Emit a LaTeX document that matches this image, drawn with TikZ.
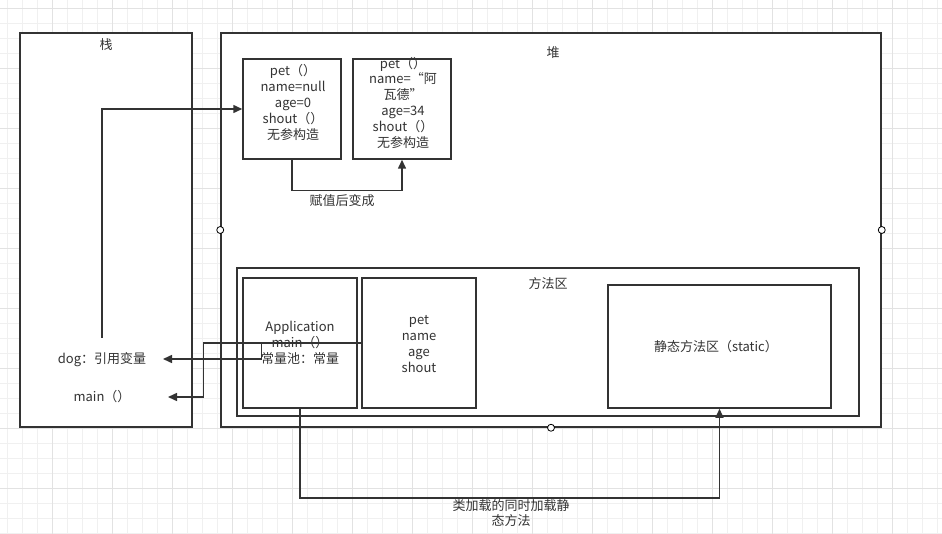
\documentclass[tikz,border=0pt]{standalone}
\usepackage{fontspec}
\setmainfont{Noto Sans CJK SC}
\usetikzlibrary{arrows.meta}
\definecolor{ink}{RGB}{51,51,51}
\definecolor{gridminor}{RGB}{240,240,240}
\definecolor{gridmajor}{RGB}{226,226,226}
\definecolor{pin}{RGB}{190,60,60}
\tikzset{
  box/.style={draw=ink, fill=white, line width=1.5pt, inner sep=0pt},
  txt/.style={text=ink, font=\fontsize{13}{15.8}\selectfont, align=center, inner sep=1pt},
  link/.style={->, draw=ink, line width=1.5pt}
}
\begin{document}
\begin{tikzpicture}[x=1pt, y=-1pt, >={Triangle[length=9pt,width=8pt]}]
\useasboundingbox (0,0) rectangle (942,534);
\fill[white] (0,0) rectangle (942,534);
\foreach \x in {7,22,...,937} \draw[gridminor](\x,0)--(\x,534);
\foreach \y in {8,23,...,533} \draw[gridminor](0,\y)--(942,\y);
\foreach \x in {52,112,...,937} \draw[gridmajor](\x,0)--(\x,534);
\foreach \y in {8,68,...,533} \draw[gridmajor](0,\y)--(942,\y);

\node[box, minimum width=172pt, minimum height=394pt] (stack) at (106,230) {};
\node[box, minimum width=660pt, minimum height=394pt] (heap) at (551,230) {};
\node[txt] (stacklabel) at (106,45) {栈};
\node[txt] (heaplabel) at (553,53) {堆};

\node[box, minimum width=98pt, minimum height=100pt] (obj1) at (292,109) {};
\node[box, minimum width=98pt, minimum height=100pt] (obj2) at (402,109) {};
\node[txt] (obj1text) at (293,102.5) {pet（）\\name=null\\age=0\\shout（）\\无参构造};
\node[txt] (obj2text) at (403,102.5) {pet（）\\name=“阿\\瓦德”\\age=34\\shout（）\\无参构造};

\node[box, minimum width=622pt, minimum height=148pt] (method) at (548,342) {};
\node[txt] (methodlabel) at (548,284) {方法区};
\node[box, minimum width=114pt, minimum height=130pt] (app) at (300,343) {};
\node[box, minimum width=114pt, minimum height=130pt] (pet) at (419,343) {};
\node[box, minimum width=223pt, minimum height=123pt] (static) at (719.5,346.5) {};
\node[txt] (apptext) at (300,343) {Application\\main（）\\常量池：常量};
\node[txt] (pettext) at (419,344) {pet\\name\\age\\shout};
\node[txt] (statictext) at (716,347) {静态方法区（static）};

\node[txt] (dog) at (102,360) {dog：引用变量};
\node[txt] (main) at (102,397) {main（）};
\coordinate (dogtop) at (102,338);
\coordinate (dogtip) at (163,359);
\coordinate (maintip) at (168,397);

\draw[link] (dogtop) |- (obj1.west);
\draw[link] (obj1.south) -- ++(0,31) -| (obj2.south);
\node[txt] (assign) at (342,201) {赋值后变成};
\draw[link] (pet.west) -- ++(-158,0) |- (maintip);
\draw[link] (pet.west) -- ++(-100,0) |- (dogtip);
\draw[link] (app.south) -- ++(0,89) -| (static.south);
\node[txt] (load) at (511,513) {类加载的同时加载静\\态方法};

\foreach \p in {west,east,south}
  \draw[pin, fill=white, line width=0.8pt] (heap.\p) circle (3.5pt);
\end{tikzpicture}
\end{document}
